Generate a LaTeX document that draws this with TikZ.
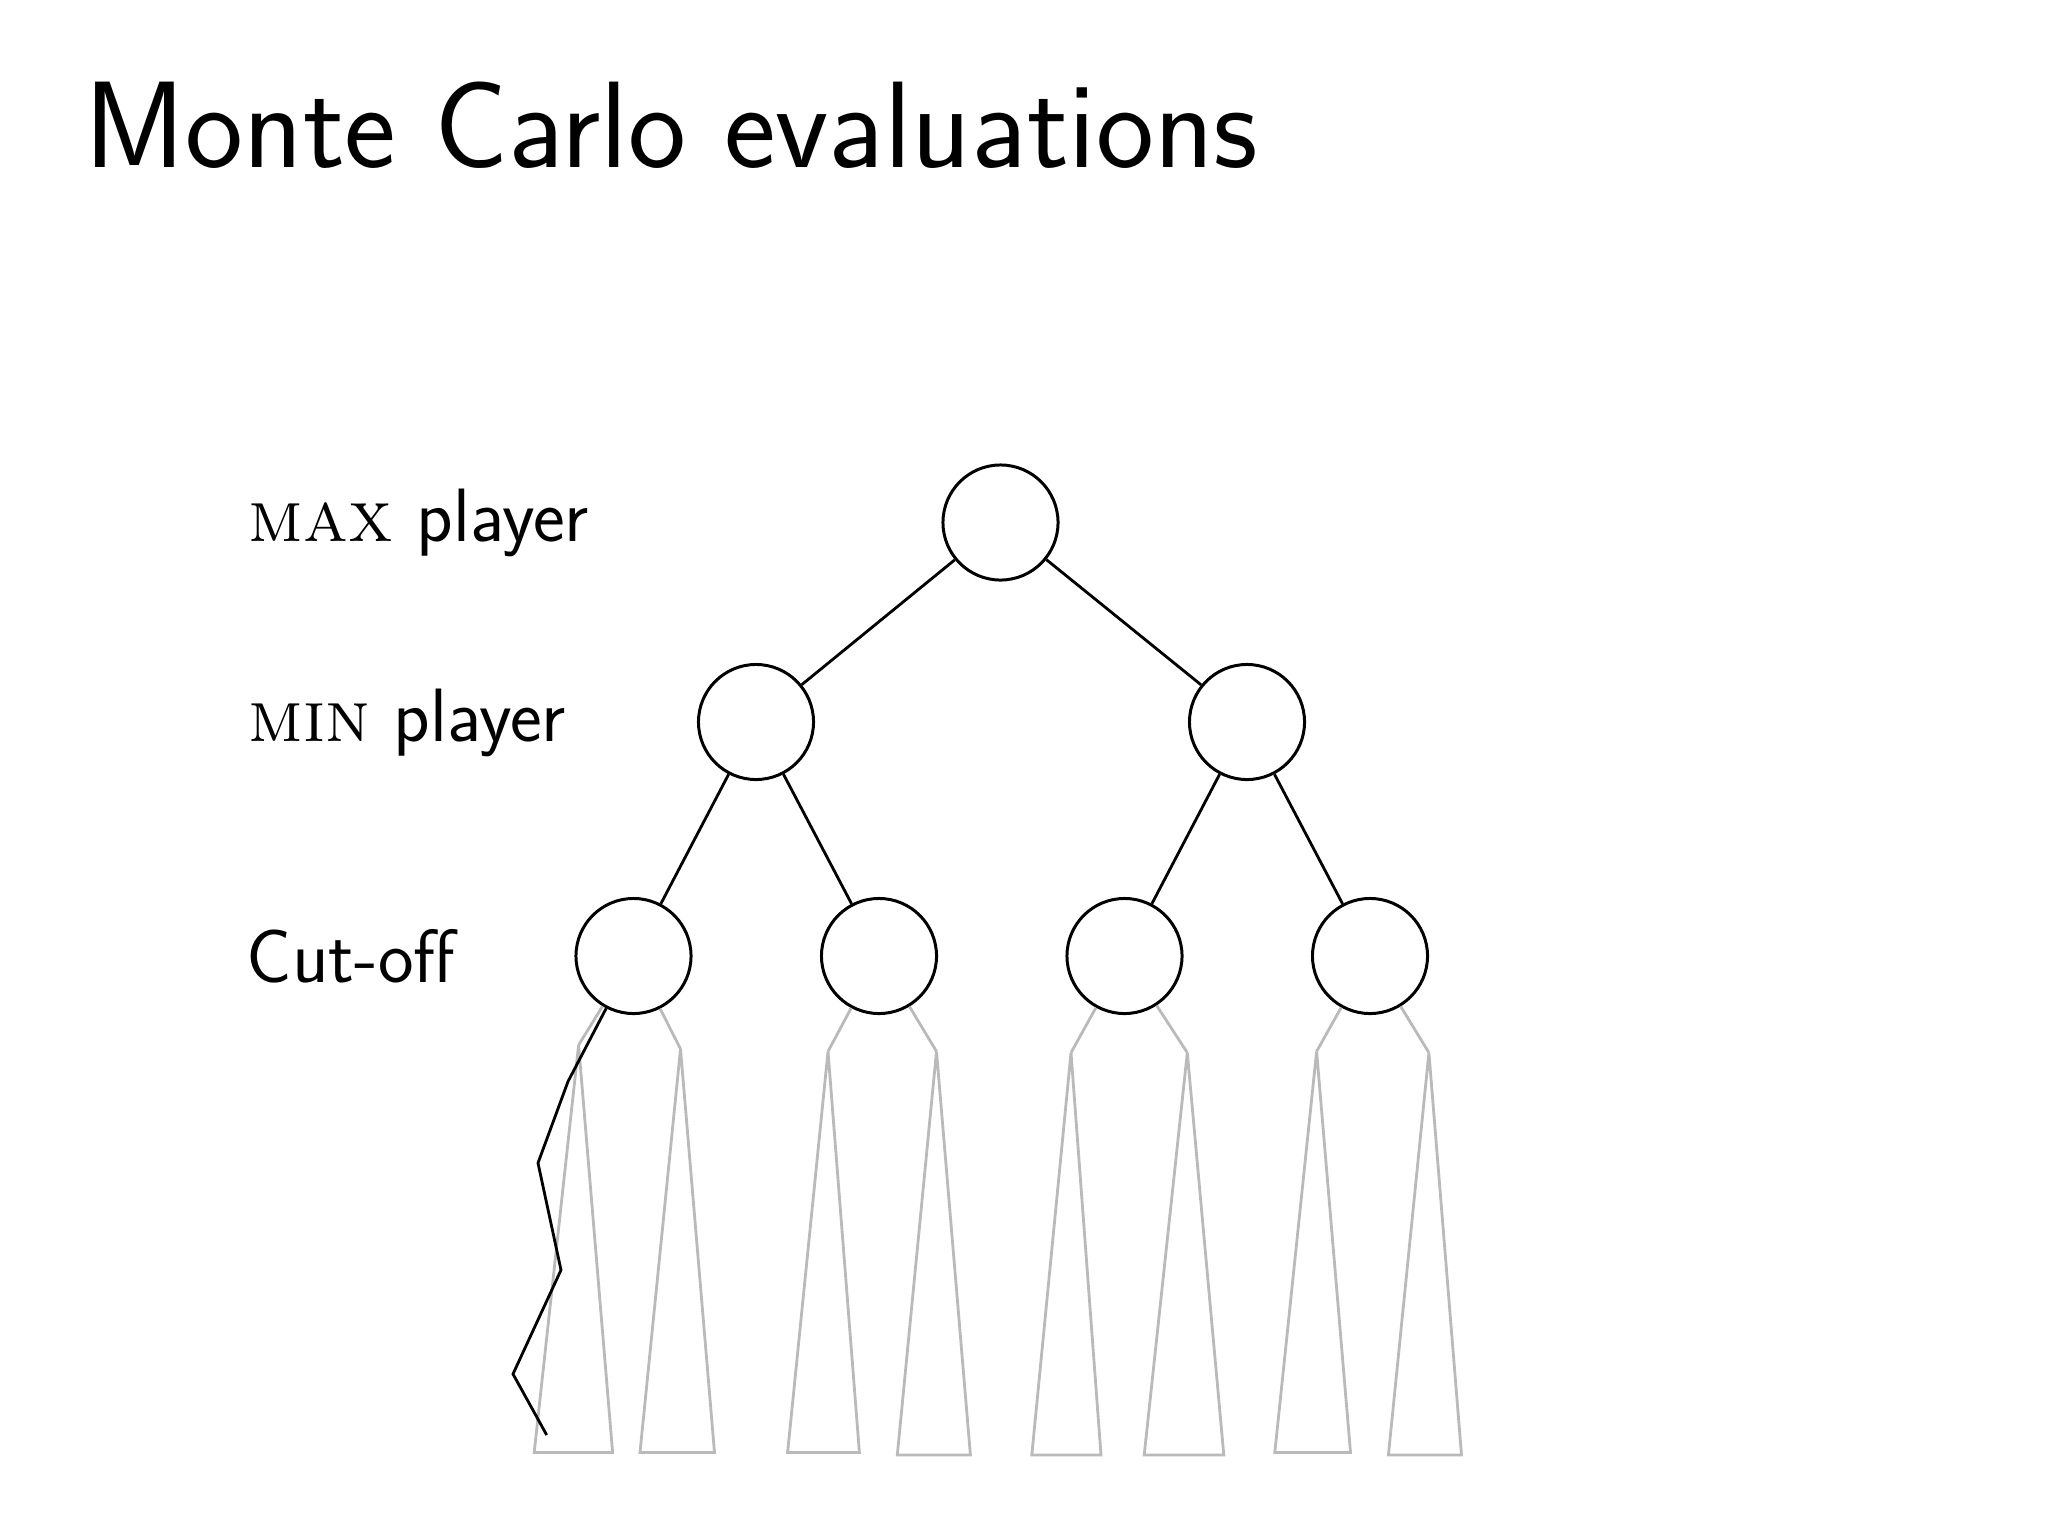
\documentclass[tikz,border=0pt]{standalone}
\newcommand{\capsrm}[1]{{\fontsize{20.8}{26}\selectfont\textrm{\textsc{#1}}}}
\begin{document}
\begin{tikzpicture}[x=0.01cm,y=-0.01cm,
  state/.style={circle,draw=black,line width=0.85pt,minimum size=1.15cm,inner sep=0pt},
  edge/.style={draw=black,line width=0.8pt},
  grayedge/.style={draw=black!27,line width=0.8pt},
  subtree/.style={draw=black!27,line width=0.8pt,line join=miter},
  lbl/.style={anchor=base west,inner sep=0pt,font=\fontsize{21.5}{26}\selectfont\sffamily},
  ttl/.style={anchor=base west,inner sep=0pt,font=\fontsize{35}{42}\selectfont\sffamily}]
\useasboundingbox (0,0) rectangle (2048,1536);
% title and labels
\node[ttl] (title) at (84,167) {Monte Carlo evaluations};
\node[lbl] (lmax) at (248,541) {\capsrm{max} player};
\node[lbl] (lmin) at (248,741) {\capsrm{min} player};
\node[lbl] (lcut) at (246,982) {Cut-off};
% nodes
\node[state] (r) at (1000.5,522.5) {};
\node[state] (a) at (756,722) {};
\node[state] (b) at (1247,722) {};
\node[state] (c1) at (633.5,956) {};
\node[state] (c2) at (879,956) {};
\node[state] (c3) at (1124.5,956) {};
\node[state] (c4) at (1370,956) {};
\draw[edge] (r) -- (a);
\draw[edge] (r) -- (b);
\draw[edge] (a) -- (c1);
\draw[edge] (a) -- (c2);
\draw[edge] (b) -- (c3);
\draw[edge] (b) -- (c4);
% subtree apexes
\coordinate (p1) at (578.6,1045);
\coordinate (p2) at (680.5,1049);
\coordinate (p3) at (828,1051.4);
\coordinate (p4) at (936.5,1051.4);
\coordinate (p5) at (1071,1052.7);
\coordinate (p6) at (1187.3,1052.7);
\coordinate (p7) at (1316.6,1051.4);
\coordinate (p8) at (1428.9,1052.7);
\draw[grayedge] (c1) -- (p1);
\draw[grayedge] (c1) -- (p2);
\draw[grayedge] (c2) -- (p3);
\draw[grayedge] (c2) -- (p4);
\draw[grayedge] (c3) -- (p5);
\draw[grayedge] (c3) -- (p6);
\draw[grayedge] (c4) -- (p7);
\draw[grayedge] (c4) -- (p8);
\draw[subtree] (p1) -- (534.2,1452.4) -- (612.6,1452.4) -- cycle;
\draw[subtree] (p2) -- (640,1452.4) -- (714.5,1452.4) -- cycle;
\draw[subtree] (p3) -- (787.6,1452.4) -- (859.4,1452.4) -- cycle;
\draw[subtree] (p4) -- (897.3,1455) -- (970.4,1455) -- cycle;
\draw[subtree] (p5) -- (1031.8,1455) -- (1101,1455) -- cycle;
\draw[subtree] (p6) -- (1144.2,1455) -- (1223.8,1455) -- cycle;
\draw[subtree] (p7) -- (1274.8,1452.4) -- (1350.5,1452.4) -- cycle;
\draw[subtree] (p8) -- (1388.4,1455) -- (1461.5,1455) -- cycle;
% Monte Carlo playout
\coordinate (k1) at (568,1081.5);
\coordinate (k2) at (538,1163);
\coordinate (k3) at (561,1270);
\coordinate (k4) at (513,1374);
\coordinate (k5) at (546.7,1435);
\draw[edge,line join=miter] (c1) -- (k1) -- (k2) -- (k3) -- (k4) -- (k5);
\end{tikzpicture}
\end{document}
